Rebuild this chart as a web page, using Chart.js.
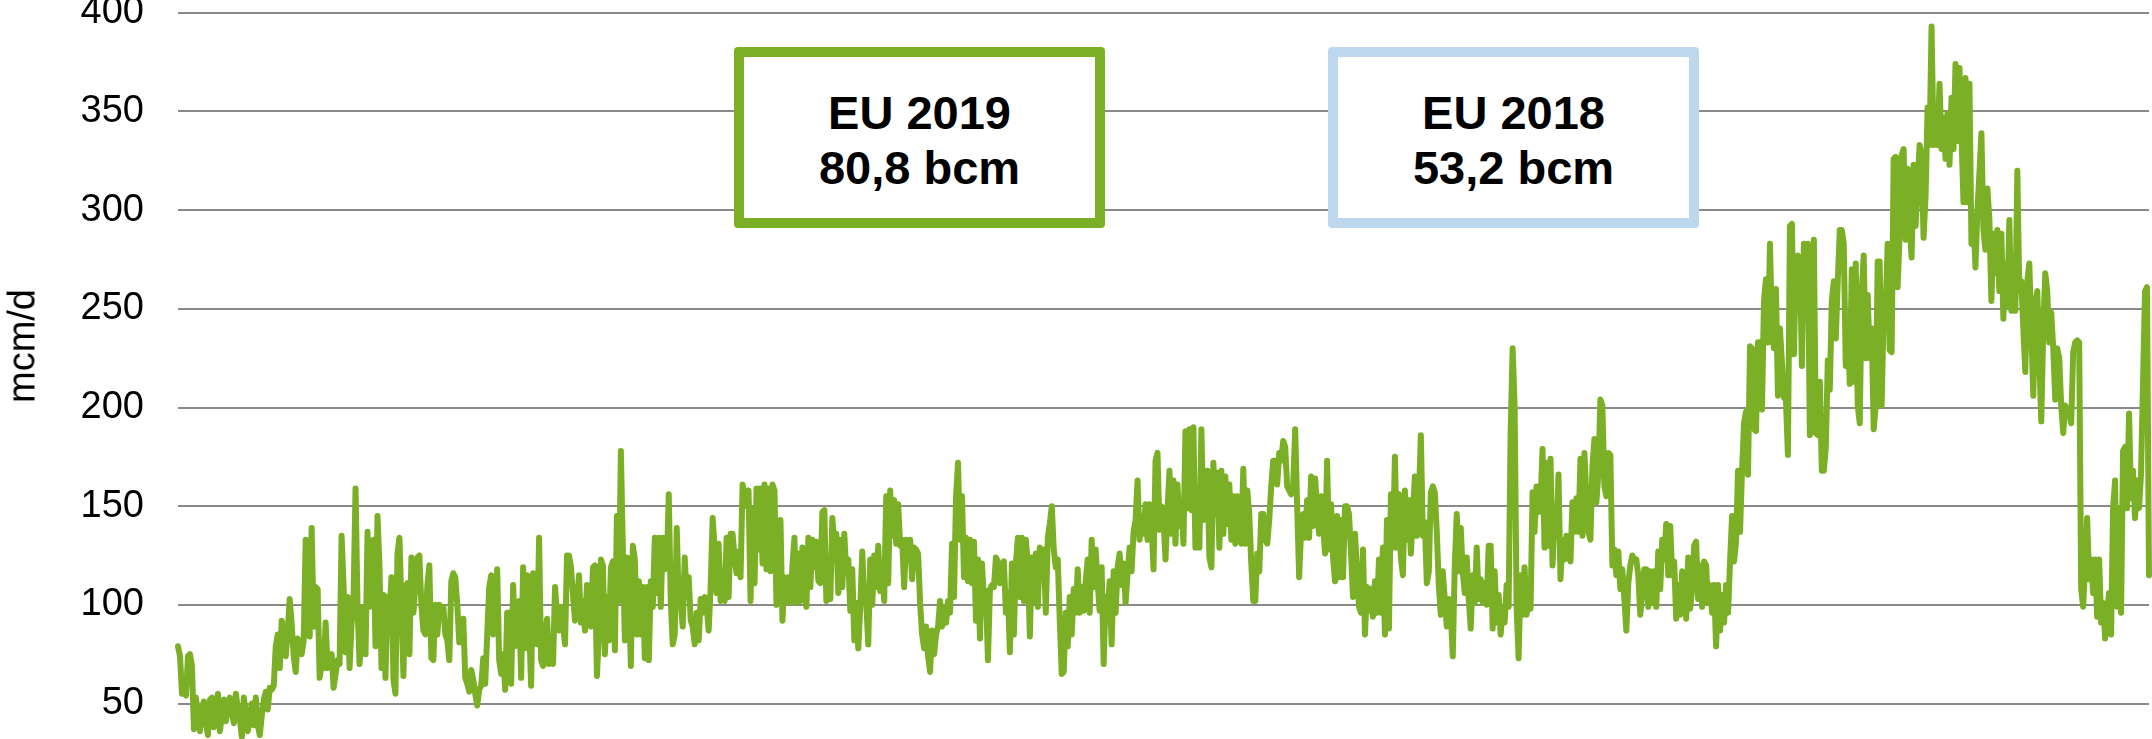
<!DOCTYPE html>
<html>
<head>
<meta charset="utf-8">
<script src="https://cdn.jsdelivr.net/npm/chart.js@4.4.0/dist/chart.umd.min.js"></script>
<style>
  html, body { margin: 0; padding: 0; background: #fff; overflow: hidden; }
  body { width: 2152px; height: 739px; position: relative; font-family: "Liberation Sans", Arial, sans-serif; }
  /* canvas is taller than the window: the bottom of the original plot is cut off */
  #wrap { position: absolute; left: 0; top: -44px; width: 2152px; height: 903px; }
  #ytitle { position: absolute; left: 22px; top: 346px; transform: translate(-50%, -50%) rotate(-90deg); font-size: 38px; color: #000; white-space: nowrap; }
  .note { position: absolute; top: 47px; width: 371px; height: 181px; box-sizing: border-box; padding-top: 4px;
          border: 10px solid; border-radius: 4px; background: #fff; display: flex; align-items: center; justify-content: center;
          text-align: center; font-weight: bold; font-size: 47px; line-height: 55px; color: #000; }
</style>
</head>
<body>
<div id="wrap"><canvas id="flows"></canvas></div>
<div id="ytitle">mcm/d</div>
<div class="note" style="left:734px; border-color:#7bb026;">EU 2019<br>80,8 bcm</div>
<div class="note" style="left:1328px; border-color:#bdd7ee;">EU 2018<br>53,2 bcm</div>
<script>
// daily flows, mcm/d left to right
const flowsA = [79,74,55,58,54,74,75,69,37,53, 44,36,48,51,40,34,52,53,38,48,
  55,36,44,52,41,50,53,45,40,55, 47,42,33,53,45,36,44,50,39,53, 39,34,44,52,56,47,58,57,59,
  79,85,68,92,82,74,87,103,90,74, 66,83,78,75,82,133,94,84,139,89,
  109,108,63,70,68,91,68,72,75,58, 65,72,70,135,110,76,104,68,90,104,
  159,99,70,85,99,75,137,99,115,133, 79,145,120,68,105,63,104,95,114,62,
  55,126,134,100,64,109,111,75,124,96, 110,124,125,100,87,85,110,120,73,72,
  100,85,100,95,99,85,82,72,112,116, 114,100,81,81,93,63,60,56,67,62,
  55,49,57,59,73,60,85,109,115,85, 94,118,72,65,75,57,96,96,60,110,
  79,90,102,63,119,78,115,90,59,116, 94,80,134,72,69,85,93,70,80,70,
  109,95,87,99,90,80,125,125,119,105, 92,100,115];
const flowsB = [91,102,87,110,91,89,119,120,64,85, 123,120,75,104,82,119,122,77,145,102,
  178,128,82,124,109,69,130,123,85,112, 85,109,73,109,72,112,99,134,106,134,
  99,134,118,119,156,102,80,85,139,102, 101,89,124,104,114,92,89,80,96,82,
  103,96,104,99,87,109,144,129,106,131, 102,116,102,134,104,136,136,124,116,127,
  114,161,156,150,158,102,148,111,159,128, 159,121,161,118,159,117,161,158,100,119,
  143,92,114,102,114,101,120,134,101,126, 102,129,109,99,134,109,133,119,132,112,
  111,147,148,102,123,103,144,131,136,106, 133,109,136,116,123,97,118,82,101,78,
  99,127,102,101,80,123,100,125,109,130, 107,116,102,155,111,158,135,153,131,151,
  130,133,109,133,123,133,113,129,128,126, 101,85,78,89,74,66,87,75,85,89,
  102,89,99,91,102,96,131,104,155,172, 133,155,114,134,112,133,111,132,92,123,
  83,121,102,107,72,108,110];
const flowsC = [109,124,122,111,119,122,96,106,76,121, 85,121,134,104,134,102,133,121,84,124,
  102,126,99,129,119,128,96,134,141,150, 128,119,123,92,65,66,96,79,104,85,
  108,96,118,96,109,97,112,123,96,133, 109,128,111,97,119,70,104,96,112,80,
  117,96,119,126,110,121,101,116,129,117, 137,143,163,133,145,136,151,133,151,141,
  118,173,177,138,150,143,123,148,168,136, 163,131,161,140,153,131,188,149,189,148,
  190,129,158,129,189,143,153,168,124,119, 172,146,167,129,168,136,165,141,161,133,
  155,131,155,140,131,169,131,158,146,121, 102,102,126,117,146,146,133,131,143,160,
  173,173,161,177,173,183,180,160,158,156, 161,189,150,114,138,146,134,153,134,165,
  140,164,148,136,155,140,126,173,128,151, 124,112,145,114,143,114,150,150,146,126,
  104,136,117,99,96,128,85,109,97,108, 94,112,96,123,96,129,85,143,88,156,
  129,175,129,156,124,115,158,133,153,126, 146,165];
const flowsD = [135,154,186,135,142,111,117,157,160,157, 137,110,95,117,103,89,103,96,74,120,
  146,117,139,117,106,124,103,88,115,101, 129,103,113,101,111,100,130,130,88,117,
  91,105,85,99,91,110,99,187,230,201, 99,73,115,95,119,95,103,98,157,137,
  160,147,152,179,129,172,130,174,120,144, 137,166,113,133,123,135,125,122,152,137,
  154,137,174,135,177,154,137,133,170,184, 152,167,204,201,160,155,177,176,120,128,
  115,127,108,118,103,87,111,120,125,122, 123,115,95,106,118,118,99,117,101,117,
  99,127,108,133,123,141,115,140,115,122, 93,110,95,117,110,93,124,98,108,130,
  132,103,120,99,122];
const flowsE = [120,101,110,96,110,79,110,87,105,91, 110,96,122,145,122,132,168,137,168,192,
  198,166,231,230,189,188,233,233,199,254, 265,233,283,240,230,260,206,240,223,205,
  204,176,292,293,227,273,277,275,221,283, 266,283,186,191,285,187,186,213,168,168,
  180,224,209,254,264,235,264,290,290,283, 221,245,212,270,213,273,201,192,259,277,
  225,257,225,240,189,201,274,274,201,249, 251,283,229,228,326,327,261,288,328,331];
const flowsF = [285,321,292,276,323,292,311,333,328,286, 307,352,333,393,333,347,333,364,331,347,
  326,349,323,357,331,374,335,372,338,304, 367,304,364,283,297,271,300,319,339,290,
  280,311,295,254,288,268,290,259,288,245, 273,252,295,249,273,249,320,259,264,240,
  218,264,273,240,206,252,259,225,193,240, 268,259,233,248,230,204,230,225,201,187,
  201,199,197,192,228,233,234,233,108,99, 120,144,113,123,106,123,94,123,91,101,
  83,96,106,85,149,163,99,149,96,178, 180,149,197,154,168,144,163,149,166,213,
  259,261,115];

const yTicks = [50, 100, 150, 200, 250, 300, 350, 400];

const flows = [].concat(flowsA, flowsB, flowsC, flowsD, flowsE, flowsF);
const days = flows.map((_, i) => i + 1);

new Chart(document.getElementById('flows'), {
  type: 'line',
  data: {
    labels: days,
    datasets: [{
      data: flows,
      borderColor: '#7bb026',
      borderWidth: 6,
      borderJoinStyle: 'round',
      borderCapStyle: 'round',
      pointRadius: 0,
      tension: 0
    }]
  },
  options: {
    responsive: true,
    maintainAspectRatio: false,
    animation: false,
    layout: { padding: { right: 3 } },
    plugins: {
      legend: { display: false },
      tooltip: { enabled: false }
    },
    scales: {
      x: { display: false },
      y: {
        min: 0,
        max: 400,
        afterFit: scale => { scale.width = 178; },
        afterBuildTicks: scale => { scale.ticks = yTicks.map(v => ({ value: v })); },
        border: { display: false },
        grid: { color: '#8a8a8a', lineWidth: 2, drawTicks: false },
        ticks: {
          padding: 34,
          color: '#000',
          font: { family: 'Liberation Sans', size: 38 }
        }
      }
    }
  }
});
</script>
</body>
</html>
